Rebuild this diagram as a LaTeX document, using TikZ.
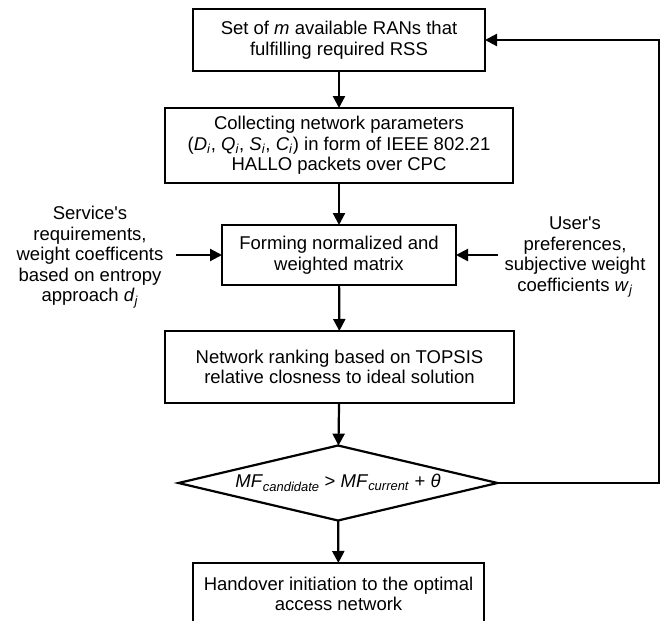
\documentclass[tikz,border=0pt]{standalone}
\usepackage{fontspec}
\setmainfont{Liberation Sans}
\usetikzlibrary{arrows.meta,shapes.geometric,positioning}

\begin{document}
\begin{tikzpicture}[x=1pt,y=-1pt,
	font=\fontsize{18.5}{20.5}\selectfont,
	block/.style={draw,line width=2.2pt,shape=rectangle,align=center,inner sep=0pt,outer sep=0pt},
	decision/.style={draw,line width=2.2pt,shape=diamond,aspect=4.25,inner sep=0pt,outer sep=0pt,minimum width=319pt,minimum height=75pt},
	note/.style={align=center,inner ysep=0pt,outer sep=0pt},
	flow/.style={line width=2.2pt,-{Triangle[length=12pt,width=12pt]}}]
\useasboundingbox (0,0) rectangle (670,621);
\clip (0,0) rectangle (670,621);
\node[block,minimum width=292pt,minimum height=62pt] (ran) at (339,40) {Set of \textit{m} available RANs that\\fulfilling required RSS};
\node[block,minimum width=348pt,minimum height=75pt] (coll) at (339,145.5) {Collecting network parameters\\(\textit{D}\textsubscript{\textit{i}}, \textit{Q}\textsubscript{\textit{i}}, \textit{S}\textsubscript{\textit{i}}, \textit{C}\textsubscript{\textit{i}}) in form of IEEE 802.21\\HALLO packets over CPC};
\node[block,minimum width=234pt,minimum height=60pt] (form) at (339,255) {Forming normalized and\\weighted matrix};
\node[block,minimum width=349pt,minimum height=72pt] (rank) at (339.5,367) {Network ranking based on TOPSIS\\relative closness to ideal solution};
\node[decision] (chk) at (338,483) {\textit{MF}\textsubscript{\textit{candidate}} > \textit{MF}\textsubscript{\textit{current}} + \textit{θ}};
\node[block,minimum width=291pt,minimum height=62pt] (hand) at (338.5,594) {Handover initiation to the optimal\\access network};
\node[note,inner xsep=13pt] (svc) at (90,257) {Service\textquotesingle s\\requirements,\\weight coefficents\\based on entropy\\approach \textit{d}\textsubscript{\textit{j}}};
\node[note,inner xsep=7pt] (usr) at (575,257) {User\textquotesingle s\\preferences,\\subjective weight\\coefficients \textit{w}\textsubscript{\textit{j}}};
\draw[flow] (ran) -- (coll);
\draw[flow] (coll) -- (form);
\draw[flow] (form) -- (rank);
\draw[flow] (rank) -- (chk);
\draw[flow] (chk) -- (hand);
\draw[flow] (svc.east |- form.west) -- (form.west);
\draw[flow] (usr.west |- form.east) -- (form.east);
\draw[flow] (chk.east) -- ++(161.5,0) |- (ran.east);
\end{tikzpicture}
\end{document}
